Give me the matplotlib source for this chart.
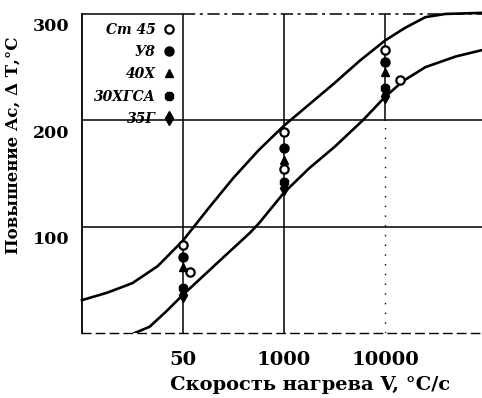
import numpy as np
import matplotlib.pyplot as plt
from matplotlib.lines import Line2D
from matplotlib.transforms import ScaledTranslation

# x axis: evenly spaced heating-rate marks (50, 1000, 10000 °C/s)
tick_pos = [1, 2, 3]
tick_labels = ["50", "1000", "10000"]
y_ticks = [100, 200, 300]

# boundary curves (x in tick-position units, y = rise of Ac, °C)
upper_x = [0.00, 0.25, 0.50, 0.75, 1.00, 1.25, 1.50, 1.75, 2.00, 2.25, 2.50, 2.75, 3.00, 3.20, 3.40, 3.60, 3.96]
upper_y = [31, 38, 47, 63, 87, 117, 146, 172, 195, 215, 235, 256, 275, 287, 297, 300, 301]
lower_x = [0.52, 0.67, 0.83, 1.00, 1.34, 1.66, 1.75, 2.00, 2.25, 2.50, 2.78, 3.00, 3.18, 3.40, 3.70, 3.96]
lower_y = [0, 6, 20, 36, 66, 94, 103, 132, 155, 175, 200, 222, 237, 250, 260, 266]

# measured points per steel grade
steels = ["Ст 45", "У8", "40Х", "30ХГСА", "35Г"]
st45_x = [1, 2, 3, 1.07, 2, 3.15]
st45_y = [83, 189, 266, 57, 154, 238]
u8_y = [72, 174, 255]
h40_y = [62, 163, 245]
hgsa30_y = [42, 142, 230]
g35_y = [36, 136, 223]

plt.rcParams["font.family"] = ["DejaVu Serif"]
plt.rcParams["font.weight"] = "bold"

fig = plt.figure(figsize=(4.82, 3.98), dpi=100)
ax = fig.add_axes([0.170, 0.163, 0.830, 0.802])
ax.set_xlim(0, 3.96)
ax.set_ylim(0, 300)

# grid
for yv in [100, 200]:
    ax.axhline(yv, color="black", lw=1.1, zorder=1)
ax.plot([0, 1], [300, 300], color="black", lw=1.1, zorder=1, clip_on=False)
ax.plot([1, 3.96], [300, 300], color="black", lw=1.1, ls=(0, (8, 3, 2, 3)), zorder=1, clip_on=False)
for xv in tick_pos[:2]:
    ax.axvline(xv, color="black", lw=1.1, zorder=1)
ax.plot([3, 3], [200, 300], color="black", lw=1.1, zorder=1)
ax.plot([3, 3], [0, 200], color="black", lw=1.0, ls=(0, (1, 6)), zorder=1)

ax.plot(upper_x, upper_y, color="black", lw=1.9, zorder=2, clip_on=False)
ax.plot(lower_x, lower_y, color="black", lw=1.9, zorder=2)

mk = dict(color="black", ls="none", zorder=3)
ax.plot(st45_x, st45_y, marker="o", ms=6, mfc="white", mew=1.6, **mk)
ax.plot(tick_pos, u8_y, marker="o", ms=6.5, **mk)
ax.plot(tick_pos, h40_y, marker="^", ms=6, **mk)
ax.plot(tick_pos, hgsa30_y, marker="8", ms=7, **mk)
ax.plot(tick_pos, g35_y, marker="d", ms=7, **mk)

handles = [
    Line2D([], [], marker="o", ms=6, mfc="white", mew=1.6, **mk),
    Line2D([], [], marker="o", ms=6.5, **mk),
    Line2D([], [], marker="^", ms=6, **mk),
    Line2D([], [], marker="8", ms=7, **mk),
    Line2D([], [], marker="d", ms=7, **mk),
]
leg = ax.legend(handles, steels, loc="upper right", bbox_to_anchor=(0.243, 0.99),
                frameon=False, markerfirst=False, handlelength=0.6, handletextpad=0.7,
                labelspacing=0.6, borderpad=0.4, borderaxespad=0.0,
                prop=dict(family="DejaVu Serif", style="italic", weight="bold", size=10))

ax.set_xticks(tick_pos)
ax.set_xticklabels(tick_labels)
ax.set_yticks(y_ticks)
ax.set_yticklabels([str(v) for v in y_ticks])
ax.tick_params(length=0)
ax.tick_params(axis="x", pad=13, labelsize=14)
ax.tick_params(axis="y", pad=9, labelsize=12.5)
for t in ax.yaxis.get_major_ticks():
    t.label1.set_transform(t.label1.get_transform() + ScaledTranslation(0, -0.11, fig.dpi_scale_trans))

ax.spines["top"].set_visible(False)
ax.spines["right"].set_visible(False)
ax.spines["left"].set_linewidth(1.3)
ax.spines["bottom"].set_linestyle((0, (6, 4)))
ax.spines["bottom"].set_linewidth(1.0)

ax.set_xlabel("Скорость нагрева V, °С/с", fontsize=14, fontweight="bold")
ax.xaxis.set_label_coords(0.57, -0.135)
ax.set_ylabel("Повышение Ас, Δ Т,°С", fontsize=12, fontweight="bold")
ax.yaxis.set_label_coords(-0.15, 0.59)

fig.savefig("out.png", dpi=100)
